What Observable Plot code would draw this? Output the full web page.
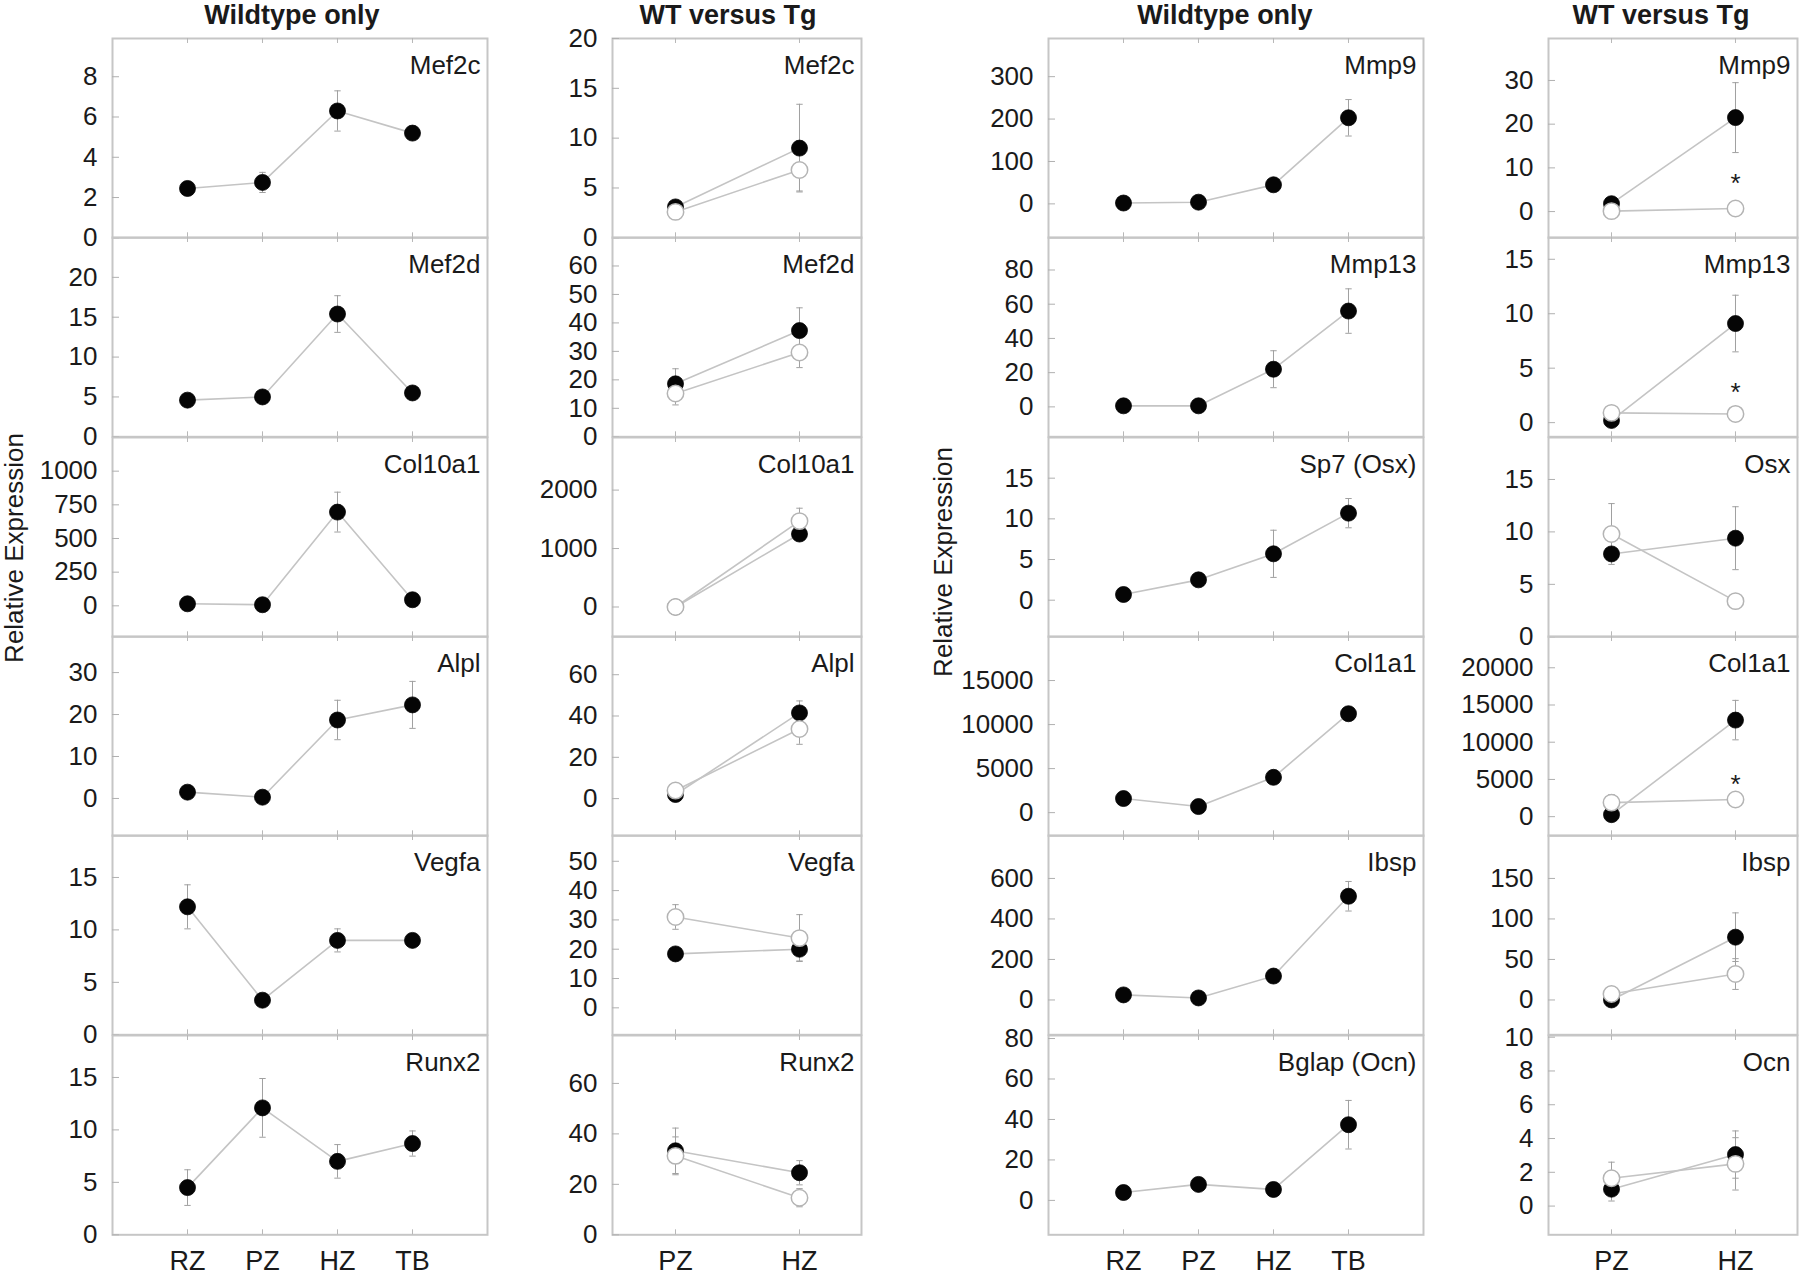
<!DOCTYPE html>
<html><head><meta charset="utf-8">
<script src="https://cdn.jsdelivr.net/npm/d3@7"></script>
<script src="https://cdn.jsdelivr.net/npm/@observablehq/plot@0.6"></script>
<style>
body{margin:0;background:#fff;}
#fig{position:relative;width:1800px;height:1277px;font-family:"Liberation Sans",Arial,sans-serif;color:#1a1a1a;overflow:hidden;}
.title{position:absolute;top:0;font-weight:bold;font-size:27px;line-height:31px;transform:translateX(-50%);white-space:nowrap;}
.ylab{position:absolute;font-size:26px;line-height:30px;white-space:nowrap;transform:translate(-50%,-50%) rotate(-90deg);}
#fig > svg{position:absolute;overflow:visible;}
</style></head><body><div id="fig"></div>
<script>
// ---------------- data ----------------
const zonesWT = ["RZ", "PZ", "HZ", "TB"];
const zonesTg = ["PZ", "HZ"];
const colTitles = ["Wildtype only", "WT versus Tg", "Wildtype only", "WT versus Tg"];
const yLabel = "Relative Expression";

const genesA = ["Mef2c", "Mef2d", "Col10a1", "Alpl", "Vegfa", "Runx2"];
const genesB = ["Mef2c", "Mef2d", "Col10a1", "Alpl", "Vegfa", "Runx2"];
const genesC = ["Mmp9", "Mmp13", "Sp7 (Osx)", "Col1a1", "Ibsp", "Bglap (Ocn)"];
const genesD = ["Mmp9", "Mmp13", "Osx", "Col1a1", "Ibsp", "Ocn"];

// Column A: wildtype only (RZ, PZ, HZ, TB)
const meanA = [[2.45, 2.75, 6.3, 5.2], [4.6, 5.0, 15.4, 5.5], [15, 8, 696, 45], [1.5, 0.3, 18.7, 22.3], [12.2, 3.3, 9.0, 9.0], [4.5, 12.1, 7.0, 8.7]];
const errA = [[0.2, 0.5, 1.0, 0.2], [0.3, 0.4, 2.3, 0.4], [10, 10, 148, 20], [0.5, 0.3, 4.7, 5.6], [2.1, 0.3, 1.1, 0.6], [1.7, 2.8, 1.6, 1.2]];

// Column B: WT vs Tg (PZ, HZ)
const wtMeanB = [[3.1, 9.0], [18.6, 37.3], [0, 1248], [2, 41.5], [18.4, 20.0], [33.3, 24.6]];
const wtErrB = [[0.3, 4.4], [5.3, 8], [20, 100], [1, 5.8], [1.5, 4], [9, 4.8]];
const tgMeanB = [[2.6, 6.8], [15.2, 29.6], [0, 1470], [3.9, 33.7], [31, 23.8], [31.3, 14.7]];
const tgErrB = [[0.3, 2.1], [4, 5.3], [20, 220], [1, 7.4], [4.2, 8], [7.5, 3.6]];

// Column C: wildtype only (RZ, PZ, HZ, TB)
const meanC = [[2, 4, 45, 203], [0.6, 0.6, 22, 56], [0.7, 2.5, 5.7, 10.7], [1600, 690, 4010, 11230], [25, 10, 118, 512], [3.9, 7.9, 5.4, 37.4]];
const errC = [[2, 3, 8, 43], [0.3, 0.3, 10.8, 13], [0.2, 0.6, 2.9, 1.8], [200, 150, 700, 450], [8, 5, 20, 73], [0.8, 1.2, 1, 12]];

// Column D: WT vs Tg (PZ, HZ)
const wtMeanD = [[1.8, 21.5], [0.2, 9.1], [7.9, 9.4], [270, 12970], [0, 77.5], [1.0, 3.05]];
const wtErrD = [[0.5, 8], [0.1, 2.6], [0.5, 3], [150, 2650], [2, 30], [0.7, 1.4]];
const tgMeanD = [[0.1, 0.7], [0.9, 0.8], [9.8, 3.4], [1890, 2300], [7.4, 32], [1.65, 2.5]];
const tgErrD = [[0.2, 0.3], [0.2, 0.2], [2.9, 0.7], [1080, 500], [3, 19], [0.95, 1.55]];

// significance stars (column D, HZ)
const starGenes = ["Mmp9", "Mmp13", "Col1a1"];
const starValues = [7.8, 3.3, 5130];

// tick labels
const ticksA = [[0, 2, 4, 6, 8], [0, 5, 10, 15, 20], [0, 250, 500, 750, 1000], [0, 10, 20, 30], [0, 5, 10, 15], [0, 5, 10, 15]];
const ticksB = [[0, 5, 10, 15, 20], [0, 10, 20, 30, 40, 50, 60], [0, 1000, 2000], [0, 20, 40, 60], [0, 10, 20, 30, 40, 50], [0, 20, 40, 60]];
const ticksC = [[0, 100, 200, 300], [0, 20, 40, 60, 80], [0, 5, 10, 15], [0, 5000, 10000, 15000], [0, 200, 400, 600], [0, 20, 40, 60, 80]];
const ticksD = [[0, 10, 20, 30], [0, 5, 10, 15], [0, 5, 10, 15], [0, 5000, 10000, 15000, 20000], [0, 50, 100, 150], [0, 2, 4, 6, 8, 10]];

// ---------------- layout (scale domains, positions) ----------------
const domA = [[0, 9.9], [0, 25], [-230, 1250], [-8.9, 38.6], [0, 19], [0, 19]];
const domB = [[0, 20], [0, 70], [-510, 2900], [-18, 78.5], [-9.2, 58.8], [0, 79]];
const domC = [[-80, 390], [-17.5, 99], [-4.5, 20], [-2630, 20000], [-172, 812], [-17, 81.5]];
const domD = [[-6, 39.6], [-1.3, 17], [0, 19], [-2570, 24200], [-43, 203], [-1.7, 10.1]];

const colX = [112, 612, 1048, 1548];
const colW = [375, 249, 375, 249];
const titleX = [292, 728, 1225, 1661];
const rowTop0 = 38, rowH = 199.3;

const fig = document.getElementById("fig");
const FONT = "'Liberation Sans', Arial, sans-serif";
const INK = "#1a1a1a";
const GRID = "#c6c6c6";

const capSymbol = {
  draw(ctx, size) {
    const w = Math.sqrt(size / Math.PI);
    ctx.moveTo(-w, 0);
    ctx.lineTo(w, 0);
  }
};

function rows(zones, means, errs, group) {
  return zones.map((z, i) => ({zone: z, mean: means[i], err: errs[i], group}));
}

function makePanel(c, r, gene, ticks, dom, series, zones, star) {
  const W = colW[c], H = rowH;
  const ml = 100, mr = 6, mt = 16, mb = r === 5 ? 43 : 16;
  const pad = zones.length === 4 ? 1 : 0.5;
  const all = series.flat();
  const wt = series[0];
  const tg = series[1] || [];
  const marks = [
    Plot.frame({stroke: GRID, strokeWidth: 2}),
    Plot.tickY(ticks, {y: d => d, insetRight: W - 7, stroke: "#b0b0b0", strokeWidth: 1}),
    Plot.tickX(zones, {x: d => d, insetTop: H - 5, stroke: "#b8b8b8"}),
    Plot.tickX(zones, {x: d => d, insetBottom: H - 5, stroke: "#b8b8b8"}),
    Plot.axisY({ticks, label: null, tickSize: 0, tickPadding: 15, tickFormat: d => String(d), fontSize: 26, fill: INK}),
    Plot.line(all, {x: "zone", y: "mean", z: "group", stroke: "#c4c4c4", strokeWidth: 1.6}),
    Plot.ruleX(all, {x: "zone", y1: d => d.mean - d.err, y2: d => d.mean + d.err, stroke: "#a0a0a0", strokeWidth: 1}),
    Plot.dot(all, {x: "zone", y: d => d.mean + d.err, symbol: capSymbol, r: 3.2, stroke: "#a0a0a0", fill: "none", strokeWidth: 1}),
    Plot.dot(all, {x: "zone", y: d => d.mean - d.err, symbol: capSymbol, r: 3.2, stroke: "#a0a0a0", fill: "none", strokeWidth: 1}),
    Plot.dot(wt, {x: "zone", y: "mean", r: 8, fill: "#050505", stroke: "#050505", strokeWidth: 0.8}),
    Plot.dot(tg, {x: "zone", y: "mean", r: 8.2, fill: "#ffffff", stroke: "#b4b4b4", strokeWidth: 1.5}),
    Plot.text([gene], {text: d => d, frameAnchor: "top-right", lineAnchor: "top", textAnchor: "end", dx: -7, dy: 17, fontSize: 26, fill: INK})
  ];
  if (star != null) {
    marks.push(Plot.text([star], {x: () => "HZ", y: d => d, text: () => "*", fontSize: 26, lineAnchor: "middle", dy: 6, fill: INK}));
  }
  if (r === 5) {
    marks.push(Plot.text(zones, {x: d => d, text: d => d, frameAnchor: "bottom", lineAnchor: "bottom", dy: 35, fontSize: 27, fill: INK}));
  }
  const svg = Plot.plot({
    width: W + ml + mr,
    height: H + mt + mb,
    marginLeft: ml, marginRight: mr, marginTop: mt, marginBottom: mb,
    style: {background: "transparent", fontFamily: FONT, fontSize: "26px", color: INK, overflow: "visible"},
    x: {type: "point", domain: zones, padding: pad, axis: null},
    y: {domain: dom, label: null},
    marks
  });
  svg.style.left = (colX[c] - ml) + "px";
  svg.style.top = (rowTop0 + r * rowH - mt) + "px";
  fig.appendChild(svg);
}

for (let r = 0; r < 6; r++) {
  // column A
  makePanel(0, r, genesA[r], ticksA[r], domA[r], [rows(zonesWT, meanA[r], errA[r], "WT")], zonesWT, null);
  // column B
  makePanel(1, r, genesB[r], ticksB[r], domB[r],
    [rows(zonesTg, wtMeanB[r], wtErrB[r], "WT"), rows(zonesTg, tgMeanB[r], tgErrB[r], "Tg")], zonesTg, null);
  // column C
  makePanel(2, r, genesC[r], ticksC[r], domC[r], [rows(zonesWT, meanC[r], errC[r], "WT")], zonesWT, null);
  // column D
  const si = starGenes.indexOf(genesD[r]);
  makePanel(3, r, genesD[r], ticksD[r], domD[r],
    [rows(zonesTg, wtMeanD[r], wtErrD[r], "WT"), rows(zonesTg, tgMeanD[r], tgErrD[r], "Tg")], zonesTg,
    si >= 0 ? starValues[si] : null);
}

colTitles.forEach((t, i) => {
  const d = document.createElement("div");
  d.className = "title";
  d.textContent = t;
  d.style.left = titleX[i] + "px";
  fig.appendChild(d);
});

[[14, 548], [943, 562]].forEach(([x, y]) => {
  const d = document.createElement("div");
  d.className = "ylab";
  d.textContent = yLabel;
  d.style.left = x + "px";
  d.style.top = y + "px";
  fig.appendChild(d);
});
</script>
</body></html>
